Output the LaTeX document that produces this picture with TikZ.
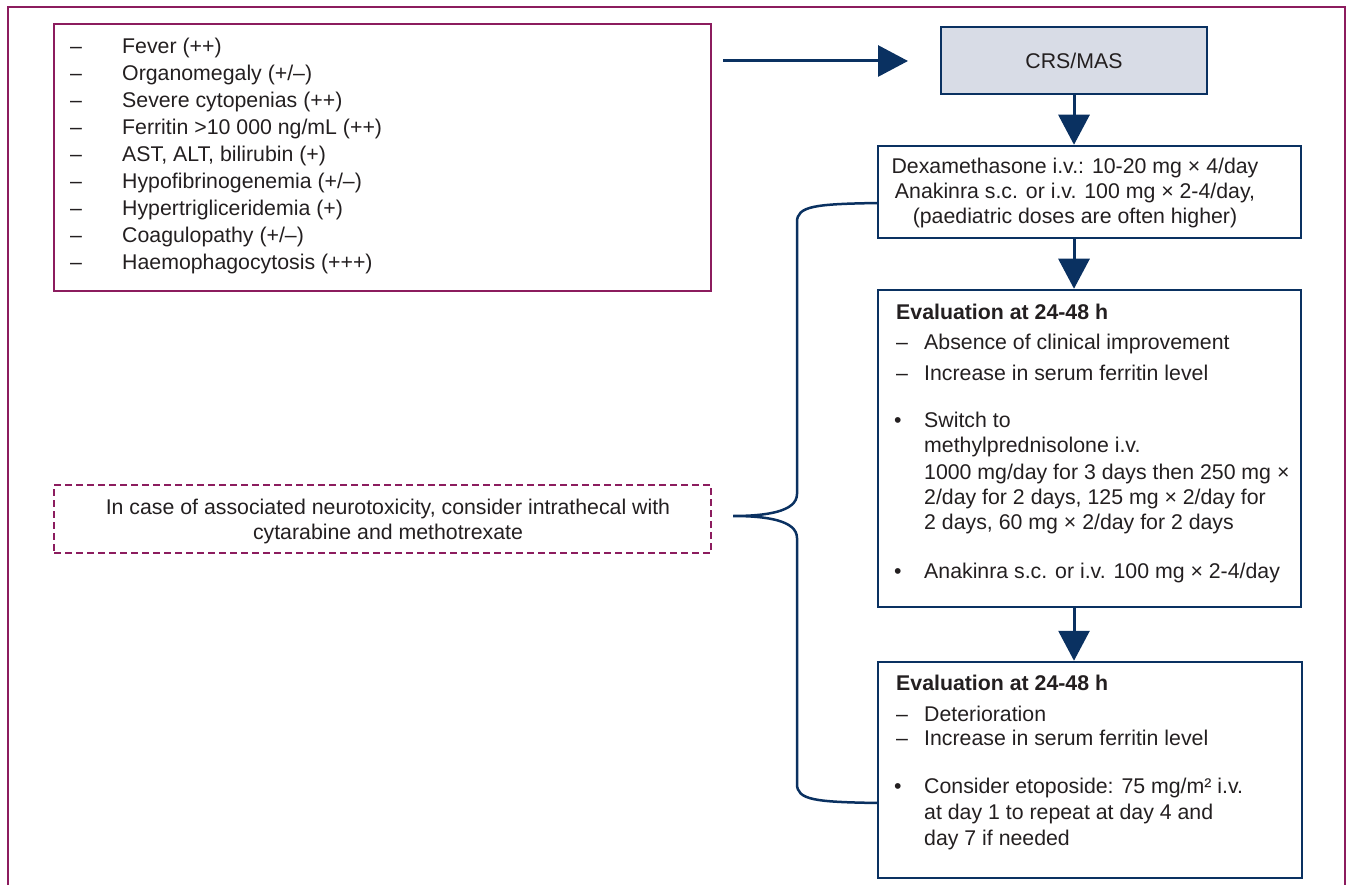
\documentclass[tikz,border=0pt]{standalone}
\usepackage{fontspec}
\setmainfont{Liberation Sans}
\usetikzlibrary{arrows.meta}
\definecolor{navy}{HTML}{0A3161}
\definecolor{plum}{HTML}{8C1C5E}
\definecolor{crsfill}{HTML}{D8DCE6}
\definecolor{ink}{HTML}{231F20}
\begin{document}
\begin{tikzpicture}[x=1pt,y=-1pt,
  txt/.style={inner sep=0pt, anchor=base west, text=ink, font=\fontsize{21.3}{27}\selectfont},
  txtb/.style={txt, font=\fontsize{21.3}{27}\selectfont\bfseries},
  ctxt/.style={txt, anchor=base},
  pbox/.style={draw=plum, line width=2.5pt, inner sep=0pt},
  nbox/.style={draw=navy, line width=2.5pt, inner sep=0pt},
  flow/.style={draw=navy, line width=3pt, -{Triangle[length=30pt,width=31pt]}},
  bracecurve/.style={draw=navy, line width=2.5pt},
]
\useasboundingbox (0,0) rectangle (1347,885);
% outer frame
\draw[plum, line width=2.5pt] (8,885) -- (8,7) -- (1345,7) -- (1345,885);

% left symptom box
\node[pbox, minimum width=657pt, minimum height=267pt] (lbox) at (382.5,157.5) {};
\foreach \t [count=\i] in {Fever (++), Organomegaly (+/–), Severe cytopenias (++),
  Ferritin >10 000 ng/mL (++), {AST, ALT, bilirubin (+)}, Hypofibrinogenemia (+/–),
  Hypertrigliceridemia (+), Coagulopathy (+/–), Haemophagocytosis (+++)} {
  \node[txt] (ld\i) at (70,{27+27*\i}) {–};
  \node[txt] (lt\i) at (122,{27+27*\i}) {\t};
}

% dashed neurotoxicity box
\node[pbox, dash pattern=on 7pt off 4pt, line width=2pt, minimum width=657pt, minimum height=68pt] (nbox) at (382.5,519) {};
\node[ctxt] (n1) at (388,514) {In case of associated neurotoxicity, consider intrathecal with};
\node[ctxt] (n2) at (388,539) {cytarabine and methotrexate};

% CRS/MAS
\node[nbox, fill=crsfill, minimum width=266pt, minimum height=67pt, text=ink, font=\fontsize{21.3}{27}\selectfont] (crs) at (1074,60.5) {CRS/MAS};

% Dexamethasone box
\node[nbox, minimum width=423pt, minimum height=92pt] (dex) at (1089.5,192) {};
\node[ctxt] (d1) at (1075,174) {Dexamethasone i.v.: 10-20 mg × 4/day};
\node[ctxt] (d2) at (1075,199) {Anakinra s.c. or i.v. 100 mg × 2-4/day,};
\node[ctxt] (d3) at (1075,224) {(paediatric doses are often higher)};

% Evaluation 1
\node[nbox, minimum width=423pt, minimum height=317pt] (ev1) at (1089.5,448.5) {};
\node[txtb] (e1t) at (896,320) {Evaluation at 24-48 h};
\node[txt] (e1d1) at (896,349) {–};
\node[txt] (e1a) at (924,349) {Absence of clinical improvement};
\node[txt] (e1d2) at (896,381) {–};
\node[txt] (e1b) at (924,381) {Increase in serum ferritin level};
\node[txt] (e1p1) at (894,427) {•};
\node[txt] (e1c) at (924,427) {Switch to};
\node[txt] (e1e) at (924,452) {methylprednisolone i.v.};
\node[txt] (e1f) at (924,479) {1000 mg/day for 3 days then 250 mg ×};
\node[txt] (e1g) at (924,504) {2/day for 2 days, 125 mg × 2/day for};
\node[txt] (e1h) at (924,529) {2 days, 60 mg × 2/day for 2 days};
\node[txt] (e1p2) at (894,578) {•};
\node[txt] (e1i) at (924,578) {Anakinra s.c. or i.v. 100 mg × 2-4/day};

% Evaluation 2
\node[nbox, minimum width=424pt, minimum height=216pt] (ev2) at (1090,770) {};
\node[txtb] (e2t) at (896,690) {Evaluation at 24-48 h};
\node[txt] (e2d1) at (896,721) {–};
\node[txt] (e2a) at (924,721) {Deterioration};
\node[txt] (e2d2) at (896,745) {–};
\node[txt] (e2b) at (924,745) {Increase in serum ferritin level};
\node[txt] (e2p1) at (894,793) {•};
\node[txt] (e2c) at (924,793) {Consider etoposide: 75 mg/m² i.v.};
\node[txt] (e2e) at (924,819) {at day 1 to repeat at day 4 and};
\node[txt] (e2f) at (924,845) {day 7 if needed};

% arrows
\coordinate (h1) at (723,61);
\coordinate (h2) at (908,61);
\draw[flow] (h1) -- (h2);
\draw[flow] (crs.south) -- (crs.south |- dex.north);
\draw[flow] (crs.south |- dex.south) -- (crs.south |- ev1.north);
\draw[flow] (crs.south |- ev1.south) -- (crs.south |- ev2.north);

% brace
\coordinate (bt) at (878,203);
\coordinate (btip) at (733,516);
\coordinate (bb) at (878,803);
\draw[bracecurve] (bt) .. controls (815,204) and (797,206) .. (797,222)
  -- (797,494) .. controls (797,512) and (765,516) .. (btip)
  .. controls (765,516) and (797,520) .. (797,538)
  -- (797,784) .. controls (797,800) and (815,802) .. (bb);
\end{tikzpicture}
\end{document}
